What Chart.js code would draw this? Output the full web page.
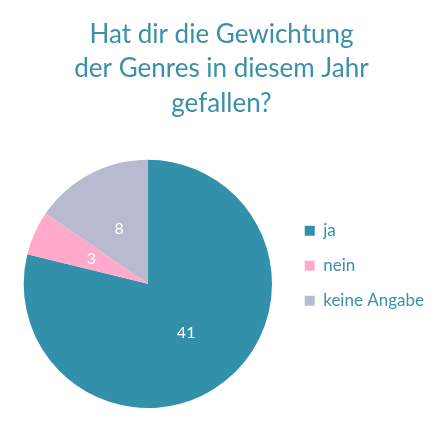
<!DOCTYPE html>
<html>
<head>
<meta charset="utf-8">
<script src="https://cdn.jsdelivr.net/npm/chart.js@4"></script>
<style>
  html, body { margin: 0; padding: 0; background: #fff; }
  #wrap { width: 443px; height: 443px; }
</style>
</head>
<body>
<div id="wrap"><canvas id="pie"></canvas></div>
<script>
const titleLines = ['Hat dir die Gewichtung', 'der Genres in diesem Jahr', 'gefallen?'];
const answers = ['ja', 'nein', 'keine Angabe'];
const counts = [41, 3, 8];
const sliceColors = ['#3390ab', '#ffaacc', '#b8bbcf'];

const textColor = '#3a90a9';

// writes the count in the middle of each slice
const sliceLabels = {
    id: 'sliceLabels',
    afterDatasetsDraw(chart) {
        const ctx = chart.ctx;
        const meta = chart.getDatasetMeta(0);
        ctx.save();
        ctx.fillStyle = '#ffffff';
        ctx.font = '16px Lato';
        ctx.textAlign = 'center';
        ctx.textBaseline = 'middle';
        meta.data.forEach((arc, i) => {
            const pos = arc.tooltipPosition();
            ctx.fillText(String(counts[i]), pos.x, pos.y);
        });
        ctx.restore();
    }
};

new Chart(document.getElementById('pie'), {
    type: 'pie',
    data: {
        labels: answers,
        datasets: [{
            data: counts,
            backgroundColor: sliceColors,
            borderWidth: 0
        }]
    },
    options: {
        responsive: true,
        maintainAspectRatio: false,
        animation: false,
        layout: {
            padding: { top: 0, bottom: 35, left: 9, right: 9 }
        },
        plugins: {
            title: {
                display: true,
                text: titleLines,
                color: textColor,
                font: { family: 'Lato', size: 26, weight: 'normal', lineHeight: 1.33 },
                padding: { top: 17, bottom: 39 }
            },
            legend: {
                position: 'right',
                align: 'start',
                fullSize: false,
                title: {
                    display: true,
                    text: ' ',
                    font: { size: 12, lineHeight: 1.2 },
                    padding: 15
                },
                labels: {
                    color: textColor,
                    font: { family: 'Lato', size: 17 },
                    boxWidth: 10,
                    boxHeight: 10,
                    padding: 18
                }
            },
            tooltip: { enabled: false }
        }
    },
    plugins: [sliceLabels]
});
</script>
</body>
</html>
